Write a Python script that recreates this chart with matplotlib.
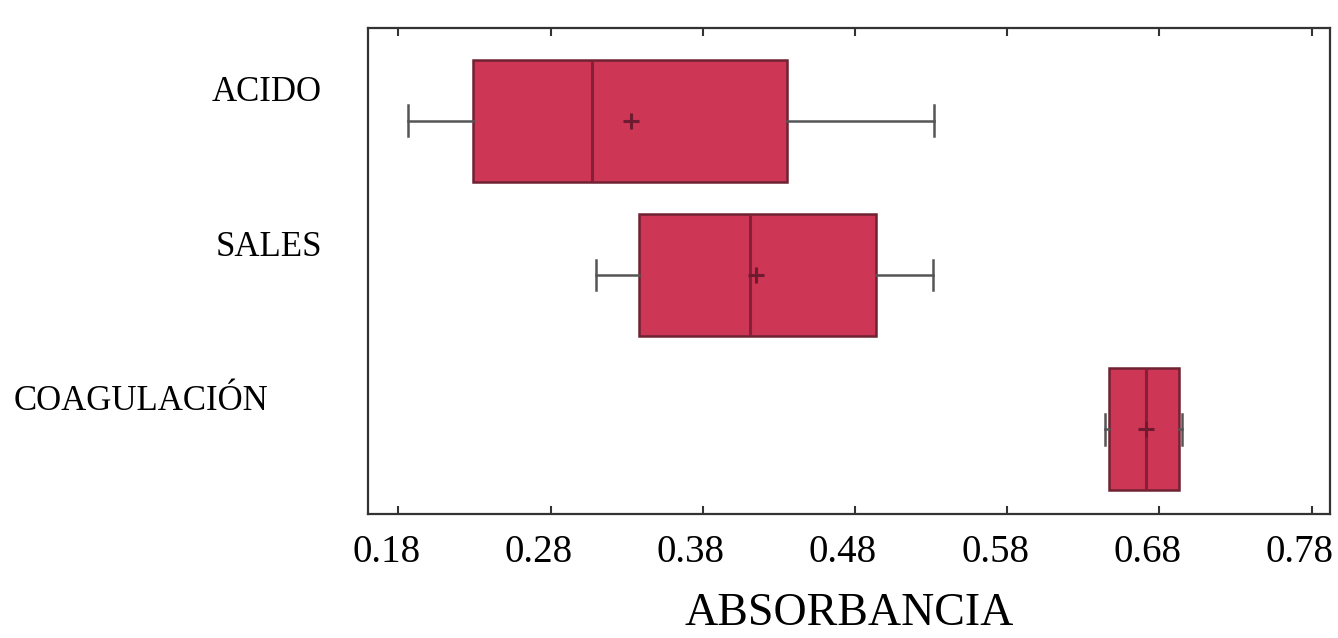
import numpy as np
import matplotlib.pyplot as plt
import matplotlib.transforms as mtransforms

# data
grupos = ["ACIDO", "SALES", "COAGULACIÓN"]
bigote_min = [0.186, 0.310, 0.644]
q1 = [0.229, 0.338, 0.647]
mediana = [0.307, 0.411, 0.671]
media = [0.333, 0.415, 0.671]
q3 = [0.435, 0.494, 0.693]
bigote_max = [0.532, 0.531, 0.695]
ticks = [0.18, 0.28, 0.38, 0.48, 0.58, 0.68, 0.78]

plt.rcParams['font.family'] = ['Liberation Serif', 'DejaVu Serif']

fig = plt.figure(figsize=(13.38, 6.38), dpi=100)
ax = fig.add_axes([0.275, 0.194, 0.719, 0.762])

stats = []
for i in range(len(grupos)):
    stats.append(dict(label=grupos[i], whislo=bigote_min[i], q1=q1[i],
                      med=mediana[i], mean=media[i], q3=q3[i],
                      whishi=bigote_max[i], fliers=[]))

pos = np.arange(1, len(grupos) + 1)
ax.bxp(stats, positions=pos, orientation='horizontal', widths=0.79,
       capwidths=0.2, patch_artist=True, showmeans=True, showfliers=False,
       boxprops=dict(facecolor='#cd3654', edgecolor='#6e2232', linewidth=1.8),
       medianprops=dict(color='#86203a', linewidth=2.2),
       whiskerprops=dict(color='#555555', linewidth=1.8),
       capprops=dict(color='#555555', linewidth=1.8),
       meanprops=dict(marker='+', markeredgecolor='#6e1a30',
                      markersize=12, markeredgewidth=2.2))

ax.set_xlim(0.16, 0.792)
ax.set_ylim(3.55, 0.40)
ax.set_xticks(ticks)
ax.set_xticklabels(["%.2f" % t for t in ticks], fontsize=28)
ax.set_yticks([])
ax.tick_params(axis='x', direction='in', length=6, width=1.5,
               top=True, bottom=True, colors='#333333', pad=14)
# the scan's tick labels sit a little left of their ticks
shift = mtransforms.ScaledTranslation(-12 / 100, 0, fig.dpi_scale_trans)
for lbl in ax.get_xticklabels():
    lbl.set_color('black')
    lbl.set_transform(lbl.get_transform() + shift)
for s in ax.spines.values():
    s.set_color('#333333')
    s.set_linewidth(1.6)

ax.set_xlabel("ABSORBANCIA", fontsize=33, labelpad=16)

# category labels sit a bit above each box, like the scan
lab_x = [322, 322, 268]
lab_off = -0.18
trans = mtransforms.blended_transform_factory(fig.transFigure, ax.transData)
for i, g in enumerate(grupos):
    ax.text(lab_x[i] / 1338, pos[i] + lab_off, g, fontsize=25,
            ha='right', va='center', transform=trans)

fig.savefig("out.png", dpi=100)
